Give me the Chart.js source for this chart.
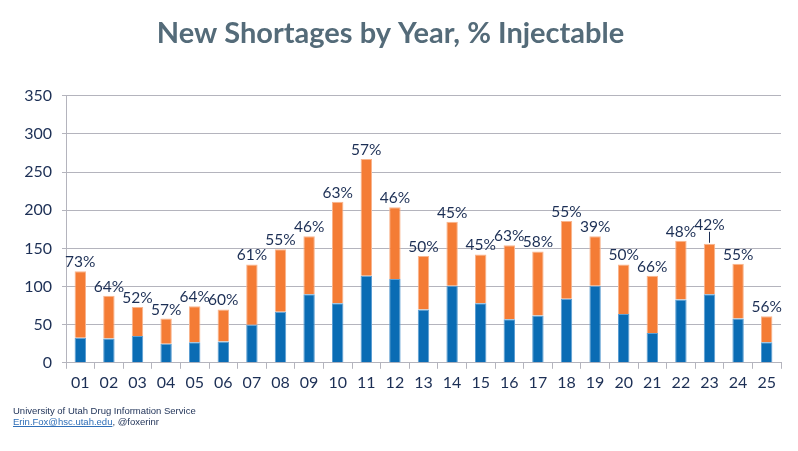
<!DOCTYPE html>
<html>
<head>
<meta charset="utf-8">
<script src="https://cdn.jsdelivr.net/npm/chart.js@4/dist/chart.umd.min.js"></script>
<style>
  html, body { margin: 0; padding: 0; background: #fff; }
  #wrap { position: relative; width: 798px; height: 451px; }
  .credit {
    position: absolute; left: 13px;
    font-family: "Liberation Sans", Arial, sans-serif;
    font-size: 9.5px; color: #1c2f55; line-height: 11px;
  }
  .credit a { color: #2f6fb8; text-decoration: underline; }
</style>
</head>
<body>
<div id="wrap">
  <canvas id="shortages" width="798" height="451"></canvas>
  <div class="credit" style="top:405px">University of Utah Drug Information Service</div>
  <div class="credit" style="top:416px"><a>Erin.Fox@hsc.utah.edu</a>, @foxerinr</div>
</div>
<script>
const years = ['01','02','03','04','05','06','07','08','09','10','11','12','13',
               '14','15','16','17','18','19','20','21','22','23','24','25'];
const nonInjectable = [33, 32, 35, 25, 27, 28, 50, 67, 90, 78, 114, 110, 70,
                       101, 78, 57, 62, 84, 101, 64, 39, 83, 90, 58, 27];
const injectable = [87, 56, 38, 33, 47, 42, 79, 82, 76, 133, 153, 94, 70,
                    84, 64, 97, 84, 102, 65, 65, 75, 77, 66, 72, 34];
const pctLabels = ['73%','64%','52%','57%','64%','60%','61%','55%','46%','63%','57%','46%','50%',
                   '45%','45%','63%','58%','55%','39%','50%','66%','48%','42%','55%','56%'];
const yTicks = [0, 50, 100, 150, 200, 250, 300, 350];

const navy = '#1c2f55';
const gridGray = '#b4b4bd';

// percent labels over each stacked bar, one gets a leader line (year 23)
const pctLabelPlugin = {
  id: 'pctLabels',
  afterDatasetsDraw(chart) {
    const ctx = chart.ctx;
    const top = chart.getDatasetMeta(1).data;
    ctx.save();
    ctx.font = '15.5px Lato, "Open Sans", sans-serif';
    ctx.fillStyle = navy;
    ctx.textAlign = 'center';
    ctx.textBaseline = 'alphabetic';
    top.forEach((bar, i) => {
      let lift = 4;
      if (i === 22) {
        lift = 14;
        ctx.strokeStyle = navy;
        ctx.lineWidth = 1;
        ctx.beginPath();
        ctx.moveTo(bar.x, bar.y - 1);
        ctx.lineTo(bar.x, bar.y - lift + 2);
        ctx.stroke();
      }
      ctx.fillText(pctLabels[i], bar.x, bar.y - lift);
    });
    ctx.restore();
  }
};

new Chart(document.getElementById('shortages'), {
  type: 'bar',
  data: {
    labels: years,
    datasets: [{
      label: 'Non-injectable',
      data: nonInjectable,
      backgroundColor: '#0a6cb4',
      borderColor: '#5d9fd3',
      borderWidth: 1,
      borderSkipped: 'bottom'
    }, {
      label: 'Injectable',
      data: injectable,
      backgroundColor: '#f47c35',
      borderColor: '#f9b58e',
      borderWidth: 1,
      borderSkipped: 'bottom'
    }]
  },
  options: {
    responsive: false,
    animation: false,
    devicePixelRatio: 1,
    layout: { padding: { right: 17, bottom: 55 } },
    datasets: { bar: { barPercentage: 0.4, categoryPercentage: 1 } },
    plugins: {
      legend: { display: false },
      tooltip: { enabled: false },
      title: {
        display: true,
        text: 'New Shortages by Year, % Injectable',
        color: '#546b79',
        font: { family: 'Lato, "Open Sans", sans-serif', size: 29, weight: 'bold' },
        padding: { top: 16, bottom: 45 }
      }
    },
    scales: {
      x: {
        stacked: true,
        grid: { display: true, drawOnChartArea: false, offset: true, color: gridGray, tickLength: 6 },
        border: { color: gridGray, width: 1 },
        ticks: { color: navy, font: { family: 'Lato, "Open Sans", sans-serif', size: 16 }, padding: 4 }
      },
      y: {
        stacked: true,
        min: 0,
        max: 350,
        afterBuildTicks(scale) { scale.ticks = yTicks.map(v => ({ value: v })); },
        afterFit(scale) { scale.width = 66; },
        grid: { color: gridGray, lineWidth: 1, tickLength: 4 },
        border: { color: gridGray, width: 1 },
        ticks: { color: navy, font: { family: 'Lato, "Open Sans", sans-serif', size: 16 }, padding: 10 }
      }
    }
  },
  plugins: [pctLabelPlugin]
});
</script>
</body>
</html>
